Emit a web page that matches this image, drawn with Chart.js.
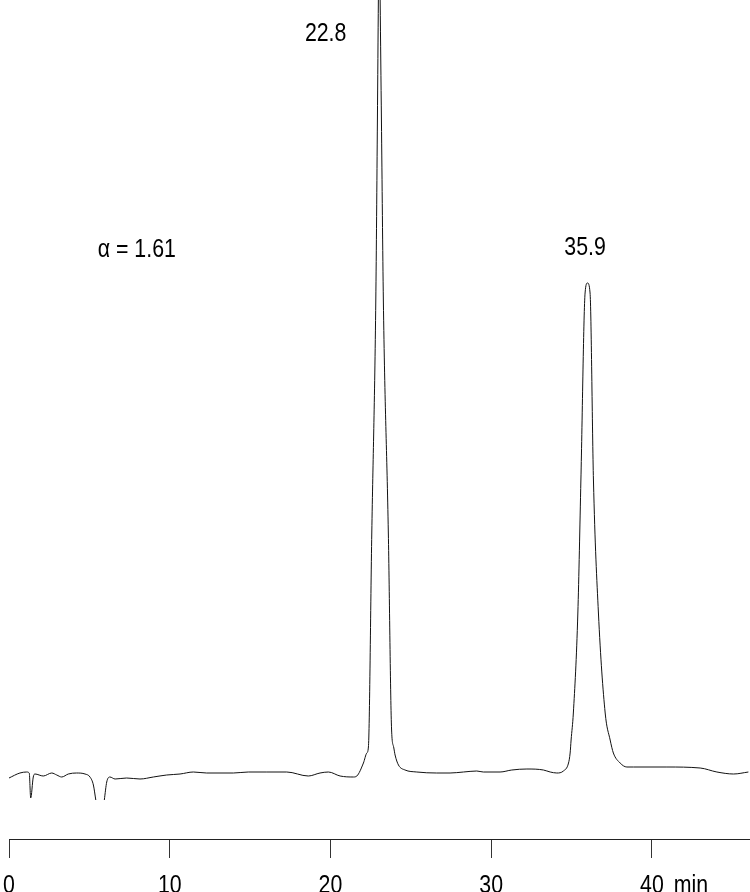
<!DOCTYPE html>
<html>
<head>
<meta charset="utf-8">
<script src="https://cdn.jsdelivr.net/npm/chart.js@4.4.1/dist/chart.umd.min.js"></script>
<style>
  html, body { margin: 0; padding: 0; background: #fff; }
  #wrap { width: 750px; height: 892px; }
</style>
</head>
<body>
<div id="wrap"><canvas id="myChart"></canvas></div>
<script>
// retention time (min) and detector signal
const times = [0.0, 0.68, 1.10, 1.26, 1.35, 1.51, 1.62, 2.13, 2.66, 2.97, 3.28, 3.69, 4.21, 4.73, 5.04, 5.25, 5.40, 5.60,
  5.93, 6.08, 6.28, 6.60, 7.32, 8.15, 8.98, 9.81, 10.64, 11.47, 12.30, 13.96, 14.89, 16.04, 17.28, 18.62, 19.35, 19.87,
  20.60, 21.43, 21.64, 22.05, 22.26, 22.36, 22.57, 22.82, 22.92, 22.98, 23.04, 23.09, 23.17, 23.29, 23.60, 23.80, 23.93,
  24.02, 24.23, 24.64, 25.37, 26.61, 27.44, 28.27, 29.10, 29.51, 30.55, 31.28, 32.22, 33.25, 33.67, 34.08, 34.49, 34.81,
  34.91, 34.97, 35.11, 35.39, 35.58, 35.84, 35.99, 36.15, 36.36, 36.67, 37.09, 37.40, 37.60, 38.02, 38.44, 38.85, 40.93,
  43.00, 44.04, 45.07, 46.00];
const signal = [61, 66, 67, 66, 41, 62, 65, 63, 66, 64, 62, 65, 66, 65, 62, 54, 39, null,
  39, 57, 62, 60, 61, 60, 62, 64, 65, 67, 66, 66, 67, 67, 67, 63, 66, 67,
  63, 62, 63, 76, 86, 92, 306, 539, 719, 839, 924, 839, 719, 539, 306, 110, 92,
  84, 74, 69, 67, 66, 66, 67, 68, 67, 67, 69, 70, 69, 67, 66, 68, 76,
  86, 99, 126, 226, 359, 546, 556, 546, 359, 226, 126, 99, 86, 76, 72, 72, 72,
  71, 67, 65, 67];

const tickValues = [0, 10, 20, 30, 40];
const unitLabel = 'min';
const unitX = 42.43;

const noteText = ['22.8', '35.9', 'α = 1.61'];
const noteX = [19.7, 35.84, 7.95];
const noteY = [805, 591, 589];

const fontFamily = "'Liberation Sans', Arial, sans-serif";
const fontSize = 26;
const squeeze = 0.82; // the original lettering is a narrow sans
Chart.defaults.font.family = fontFamily;

function narrowText(c, text, px, py) {
  c.save();
  c.translate(px, py);
  c.scale(squeeze, 1);
  c.fillText(text, 0, 0);
  c.restore();
}

const notes = {
  id: 'notes',
  afterDraw(chart) {
    const c = chart.ctx;
    const x = chart.scales.x, y = chart.scales.y;
    c.save();
    c.font = fontSize + 'px ' + fontFamily;
    c.fillStyle = '#000';
    c.textAlign = 'center';
    c.textBaseline = 'middle';
    noteText.forEach((t, i) => {
      narrowText(c, t, x.getPixelForValue(noteX[i]), y.getPixelForValue(noteY[i]));
    });
    // tick labels of the time axis, plus the unit
    const ly = x.top + 19 + 12 + fontSize * 0.6;
    tickValues.forEach(v => narrowText(c, String(v), x.getPixelForValue(v), ly));
    narrowText(c, unitLabel, x.getPixelForValue(unitX), ly);
    c.restore();
  }
};

const ctx = document.getElementById('myChart');

new Chart(ctx, {
  type: 'line',
  data: {
    datasets: [{
      data: times.map((t, i) => ({ x: t, y: signal[i] })),
      borderColor: '#111',
      borderWidth: 1,
      pointRadius: 0,
      fill: false,
      spanGaps: false,
      cubicInterpolationMode: 'monotone'
    }]
  },
  options: {
    responsive: true,
    maintainAspectRatio: false,
    animation: false,
    layout: { padding: { left: 9, right: 0, top: 0, bottom: 0 } },
    plugins: {
      legend: { display: false },
      tooltip: { enabled: false }
    },
    scales: {
      x: {
        type: 'linear',
        min: 0,
        max: 46.1,
        afterBuildTicks: s => { s.ticks = tickValues.map(v => ({ value: v })); },
        afterFit: s => { s.height = 53; s.paddingLeft = 0; s.paddingRight = 0; },
        grid: { drawOnChartArea: false, drawTicks: true, tickLength: 19, tickColor: '#333', tickWidth: 1 },
        border: { display: true, color: '#222', width: 1 },
        ticks: { display: false }
      },
      y: {
        display: false,
        min: 0,
        max: 839
      }
    }
  },
  plugins: [notes]
});
</script>
</body>
</html>
